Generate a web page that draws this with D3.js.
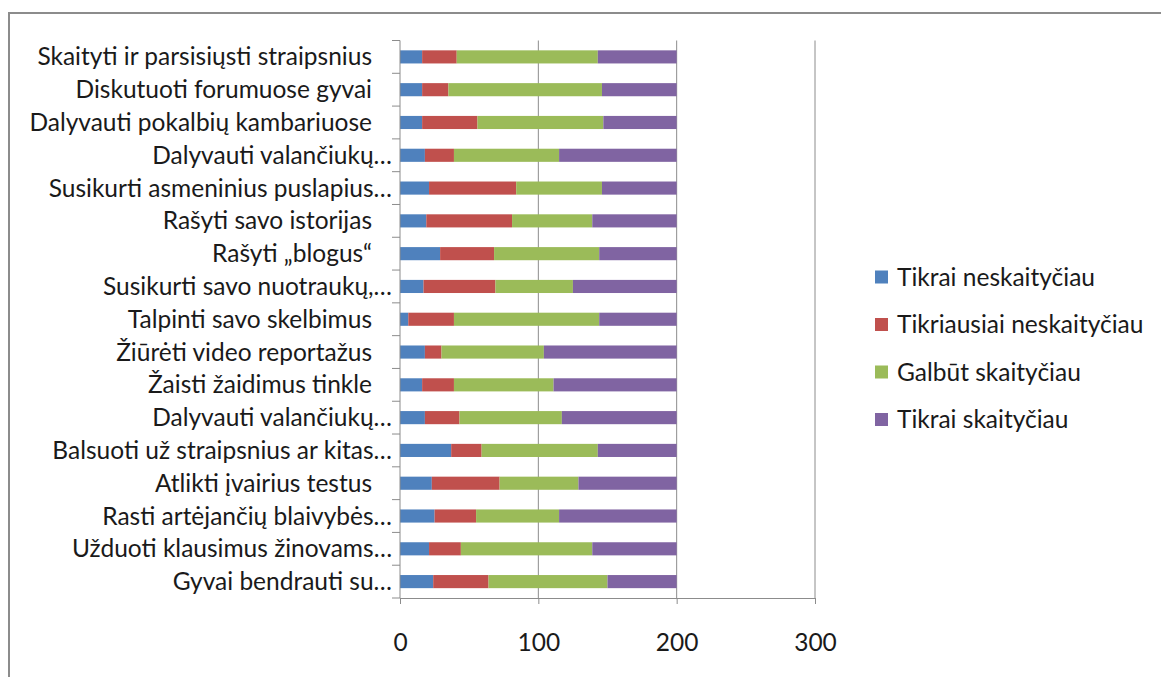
<!DOCTYPE html>
<html>
<head>
<meta charset="utf-8">
<script src="https://cdn.jsdelivr.net/npm/d3@7"></script>
<style>
  html, body { margin: 0; padding: 0; background: #fff; }
  svg { display: block; }
  text { font-family: Lato, "Open Sans", sans-serif; fill: #1a1a1a; }
</style>
</head>
<body>
<svg id="chart" width="1161" height="677"></svg>
<script>
const categories = [
  "Skaityti ir parsisiųsti straipsnius",
  "Diskutuoti forumuose gyvai",
  "Dalyvauti pokalbių kambariuose",
  "Dalyvauti valančiukų…",
  "Susikurti asmeninius puslapius…",
  "Rašyti savo istorijas",
  "Rašyti „blogus“",
  "Susikurti savo nuotraukų,…",
  "Talpinti savo skelbimus",
  "Žiūrėti video reportažus",
  "Žaisti žaidimus tinkle",
  "Dalyvauti valančiukų…",
  "Balsuoti už straipsnius ar kitas…",
  "Atlikti įvairius testus",
  "Rasti artėjančių blaivybės…",
  "Užduoti klausimus žinovams…",
  "Gyvai bendrauti su…"
];
const seriesNames = ["Tikrai neskaityčiau", "Tikriausiai neskaityčiau", "Galbūt skaityčiau", "Tikrai skaityčiau"];
const tikraiNeskaityciau     = [16, 16, 16, 18, 21, 19, 29, 17,  6, 18, 16, 18, 37, 23, 25, 21, 24];
const tikriausiaiNeskaityciau= [25, 19, 40, 21, 63, 62, 39, 52, 33, 12, 23, 25, 22, 49, 30, 23, 40];
const galbutSkaityciau       = [102,111, 91, 76, 62, 58, 76, 56,105, 74, 72, 74, 84, 57, 60, 95, 86];
const tikraiSkaityciau       = [57, 54, 53, 85, 54, 61, 56, 75, 56, 96, 89, 83, 57, 71, 85, 61, 50];
const xTicks = [0, 100, 200, 300];
const colors = ["#4F81BD", "#C0504D", "#9BBB59", "#8064A2"];

const seriesValues = [tikraiNeskaityciau, tikriausiaiNeskaityciau, galbutSkaityciau, tikraiSkaityciau];
const rows = categories.map((c, i) => {
  const r = { idx: i, cat: c };
  seriesNames.forEach((s, k) => r[s] = seriesValues[k][i]);
  return r;
});

const FS = 24.5;
const svg = d3.select("#chart");

// outer frame
svg.append("rect")
  .attr("x", 9).attr("y", 13)
  .attr("width", 1200).attr("height", 700)
  .attr("fill", "none").attr("stroke", "#8c8c8c").attr("stroke-width", 2);

const plot = { left: 400, right: 815, top: 40.5, bottom: 598 };

const x = d3.scaleLinear().domain([0, 300]).range([plot.left, plot.right]);
const y = d3.scaleBand().domain(d3.range(categories.length))
  .range([plot.top, plot.bottom]).paddingInner(0.6).paddingOuter(0.3);
const yOuter = d3.scaleBand().domain(d3.range(categories.length))
  .range([plot.top, plot.bottom]);

// gridlines
svg.append("g").selectAll("line")
  .data(xTicks.filter(t => t > 0))
  .join("line")
  .attr("x1", d => x(d)).attr("x2", d => x(d))
  .attr("y1", plot.top).attr("y2", plot.bottom)
  .attr("stroke", "#8c8c8c").attr("stroke-width", 1);

// stacked bars
const stack = d3.stack().keys(seriesNames);
const stacked = stack(rows);
svg.append("g").selectAll("g")
  .data(stacked)
  .join("g")
  .attr("fill", (d, i) => colors[i])
  .selectAll("rect")
  .data(d => d)
  .join("rect")
  .attr("x", d => x(d[0]))
  .attr("width", d => x(d[1]) - x(d[0]))
  .attr("y", d => y(d.data.idx))
  .attr("height", y.bandwidth());

// y axis line and ticks
const yAxisG = svg.append("g");
yAxisG.append("line")
  .attr("x1", plot.left).attr("x2", plot.left)
  .attr("y1", plot.top).attr("y2", plot.bottom)
  .attr("stroke", "#8c8c8c").attr("stroke-width", 1);
const boundaries = d3.range(categories.length + 1).map(i => i < categories.length ? yOuter(i) : plot.bottom);
yAxisG.selectAll("line.tick")
  .data(boundaries)
  .join("line").attr("class", "tick")
  .attr("x1", plot.left - 8).attr("x2", plot.left)
  .attr("y1", d => d).attr("y2", d => d)
  .attr("stroke", "#8c8c8c").attr("stroke-width", 1);

// category labels
yAxisG.selectAll("text")
  .data(categories)
  .join("text")
  .attr("x", d => d.endsWith("…") ? plot.left - 8 : plot.left - 28)
  .attr("y", (d, i) => yOuter(i) + yOuter.bandwidth() / 2)
  .attr("dy", "0.35em")
  .attr("text-anchor", "end")
  .attr("font-size", FS)
  .text(d => d);

// x axis
const xAxis = d3.axisBottom(x).tickValues(xTicks).tickSize(6).tickSizeOuter(0).tickPadding(30);
const xg = svg.append("g").attr("transform", `translate(0,${plot.bottom})`).call(xAxis);
xg.select(".domain").attr("stroke", "#8c8c8c");
xg.selectAll(".tick line").attr("stroke", "#8c8c8c");
xg.selectAll(".tick text")
  .attr("font-size", FS)
  .attr("font-family", "Lato, 'Open Sans', sans-serif")
  .attr("fill", "#1a1a1a");

// legend
const legend = svg.append("g");
const legItems = legend.selectAll("g")
  .data(seriesNames)
  .join("g")
  .attr("transform", (d, i) => `translate(875,${277 + i * 47.5})`);
legItems.append("rect")
  .attr("x", 0).attr("y", -6.5)
  .attr("width", 13).attr("height", 13)
  .attr("fill", (d, i) => colors[i]);
legItems.append("text")
  .attr("x", 22).attr("y", 0)
  .attr("dy", "0.35em")
  .attr("font-size", FS)
  .text(d => d);
</script>
</body>
</html>
